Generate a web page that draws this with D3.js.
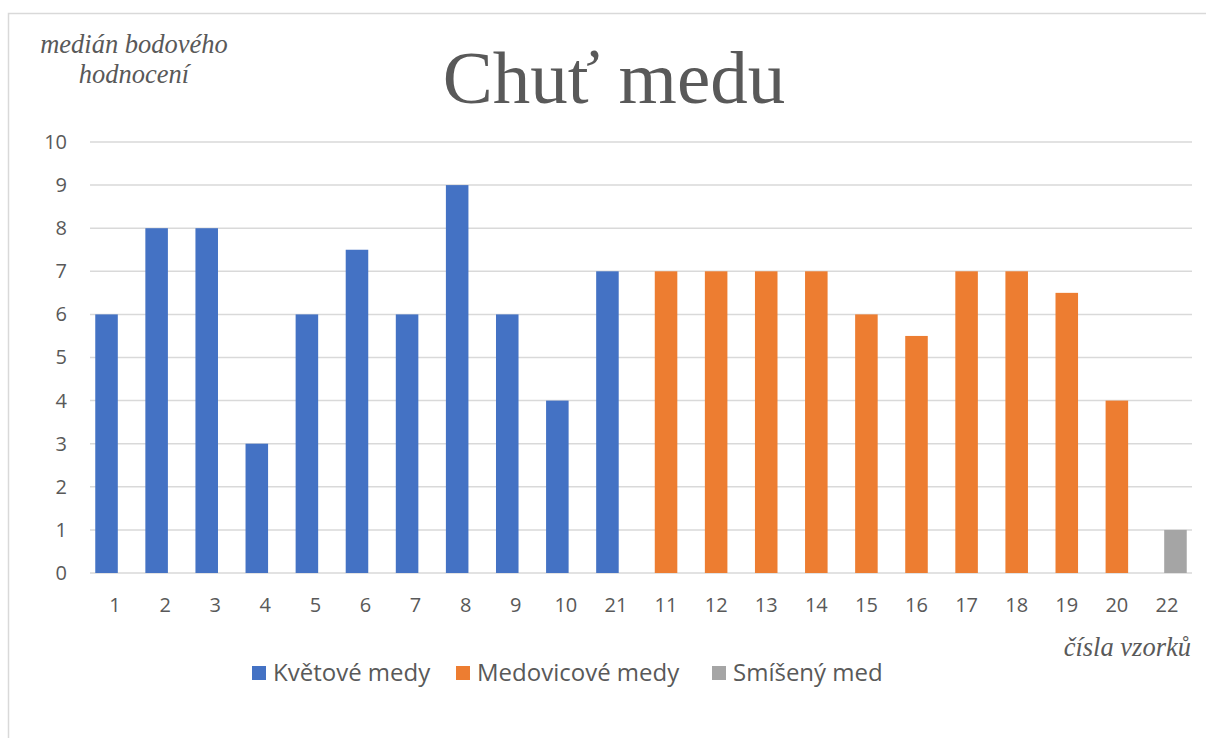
<!DOCTYPE html>
<html>
<head>
  <meta charset="utf-8">
  <script src="https://d3js.org/d3.v7.min.js"></script>
  <style>
    body { margin: 0; background: #fff; overflow: hidden; }
  </style>
  <title>Chuť medu</title>
</head>
<body>
  <script>
    // Data
    const categories = ["1", "2", "3", "4", "5", "6", "7", "8", "9", "10", "21",
                        "11", "12", "13", "14", "15", "16", "17", "18", "19", "20", "22"];
    const kvetove = [6, 8, 8, 3, 6, 7.5, 6, 9, 6, 4, 7, null,
                     null, null, null, null, null, null, null, null, null, null];
    const medovicove = [null, null, null, null, null, null, null, null, null, null, null,
                        7, 7, 7, 7, 6, 5.5, 7, 7, 6.5, 4, null];
    const smiseny = [null, null, null, null, null, null, null, null, null, null, null,
                     null, null, null, null, null, null, null, null, null, null, 1];
    const seriesNames = ["Květové medy", "Medovicové medy", "Smíšený med"];
    const yTicks = [0, 1, 2, 3, 4, 5, 6, 7, 8, 9, 10];

    const colors = ["#4472C4", "#ED7D31", "#A5A5A5"];
    const W = 1206, H = 738;
    const plot = { left: 90, right: 1192, top: 142, bottom: 573 };

    const svg = d3.select("body").append("svg")
      .attr("width", W)
      .attr("height", H);

    // chart border (only left + top are visible)
    svg.append("rect")
      .attr("x", 8.5).attr("y", 13.5)
      .attr("width", W + 20).attr("height", H + 20)
      .attr("fill", "none")
      .attr("stroke", "#d9d9d9")
      .attr("stroke-width", 1.5);

    const x = d3.scaleBand()
      .domain(categories)
      .range([plot.left, plot.right])
      .padding(0);

    const y = d3.scaleLinear()
      .domain([0, 10])
      .range([plot.bottom, plot.top]);

    // gridlines
    svg.append("g")
      .selectAll("line")
      .data(yTicks)
      .join("line")
      .attr("x1", plot.left).attr("x2", plot.right)
      .attr("y1", d => y(d)).attr("y2", d => y(d))
      .attr("stroke", "#d9d9d9")
      .attr("stroke-width", 1.5);

    // y axis labels
    const yAxis = svg.append("g")
      .attr("transform", "translate(" + (plot.left - 23) + ",0)")
      .call(d3.axisLeft(y).tickValues(yTicks).tickSize(0).tickPadding(0));
    yAxis.select(".domain").remove();
    yAxis.selectAll("text")
      .attr("fill", "#595959")
      .style("font-family", "'Open Sans', sans-serif")
      .style("font-size", "20px");

    // x axis labels
    const xAxis = svg.append("g")
      .attr("transform", "translate(0," + (plot.bottom + 25) + ")")
      .call(d3.axisBottom(x).tickSize(0).tickPadding(0));
    xAxis.select(".domain").remove();
    xAxis.selectAll("text")
      .attr("fill", "#595959")
      .style("font-family", "'Open Sans', sans-serif")
      .style("font-size", "20px");

    // bars: three clustered series with overlap
    const allSeries = [kvetove, medovicove, smiseny];
    const bw = x.bandwidth() * 0.45;
    const step = x.bandwidth() * 0.17;

    allSeries.forEach(function (values, si) {
      const rows = categories.map(function (c, i) { return { cat: c, v: values[i] }; })
        .filter(function (d) { return d.v !== null; });
      svg.append("g")
        .selectAll("rect")
        .data(rows)
        .join("rect")
        .attr("x", d => x(d.cat) + x.bandwidth() / 2 + (si - 1) * step - bw / 2)
        .attr("y", d => y(d.v))
        .attr("width", bw)
        .attr("height", d => y(0) - y(d.v))
        .attr("fill", colors[si]);
    });

    // title
    svg.append("text")
      .attr("x", 614).attr("y", 103)
      .attr("text-anchor", "middle")
      .attr("fill", "#595959")
      .style("font-family", "'Liberation Serif', 'Times New Roman', serif")
      .style("font-size", "75px")
      .text("Chuť medu");

    // y axis title
    const yTitle = svg.append("text")
      .attr("text-anchor", "middle")
      .attr("fill", "#595959")
      .style("font-family", "'Liberation Serif', 'Times New Roman', serif")
      .style("font-style", "italic")
      .style("font-size", "26.5px");
    yTitle.append("tspan").attr("x", 134).attr("y", 53).text("medián bodového");
    yTitle.append("tspan").attr("x", 134).attr("y", 83).text("hodnocení");

    // x axis title
    svg.append("text")
      .attr("x", 1191).attr("y", 656)
      .attr("text-anchor", "end")
      .attr("fill", "#595959")
      .style("font-family", "'Liberation Serif', 'Times New Roman', serif")
      .style("font-style", "italic")
      .style("font-size", "26.5px")
      .text("čísla vzorků");

    // legend
    const legendX = [252, 456, 712];
    const legend = svg.append("g");
    seriesNames.forEach(function (name, i) {
      legend.append("rect")
        .attr("x", legendX[i]).attr("y", 666)
        .attr("width", 14).attr("height", 14)
        .attr("fill", colors[i]);
      legend.append("text")
        .attr("x", legendX[i] + 21).attr("y", 681)
        .attr("fill", "#595959")
        .style("font-family", "'Open Sans', sans-serif")
        .style("font-size", "24px")
        .text(name);
    });
  </script>
</body>
</html>
